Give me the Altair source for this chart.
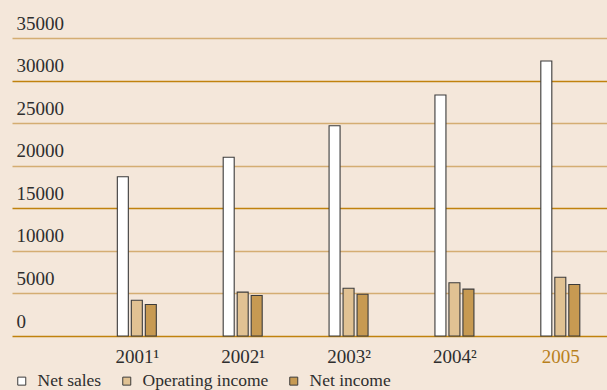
import altair as alt
import pandas as pd

# Values in EUR million, by fiscal year
years = [2001, 2002, 2003, 2004, 2005]
year_labels = ["2001¹", "2002¹", "2003²", "2004²", "2005"]
series = ["Net sales", "Operating income", "Net income"]
net_sales = [18700, 21000, 24700, 28300, 32300]
operating_income = [4200, 5150, 5600, 6250, 6900]
net_income = [3700, 4750, 4900, 5500, 6050]
series_colors = ["#ffffff", "#e1c293", "#c79a52"]
y_ticks = [0, 5000, 10000, 15000, 20000, 25000, 30000, 35000]

FONT = "Liberation Serif"
TEXT = "#2e2e2e"
GOLD = "#b8801c"

rows = []
for name, vals in zip(series, [net_sales, operating_income, net_income]):
    for yr, v in zip(years, vals):
        rows.append({"year": yr, "series": name, "value": v})
df = pd.DataFrame(rows)

series_list = "[" + ",".join(f"'{s}'" for s in series) + "]"
label_expr = "[" + ",".join(f"'{l}'" for l in year_labels) + f"][datum.value - {years[0]}]"

chart = (
    alt.Chart(df)
    .transform_calculate(
        pos=f"datum.year + (indexof({series_list}, datum.series) - 1) * 0.1322"
    )
    .mark_bar(size=11, stroke="#3b3b3b", strokeWidth=1.1)
    .encode(
        x=alt.X(
            "pos:Q",
            scale=alt.Scale(domain=[1999.821, 2005.441], nice=False, zero=False, padding=0),
            axis=alt.Axis(
                values=years,
                labelExpr=label_expr,
                title=None,
                grid=False,
                domain=False,
                ticks=False,
                tickSize=0,
                labelFont=FONT,
                labelFontSize=19,
                labelColor={"condition": {"test": "datum.value == 2005", "value": GOLD}, "value": TEXT},
                labelBaseline="alphabetic",
                labelPadding=26,
                labelFlush=False,
                labelOverlap=False,
            ),
        ),
        y=alt.Y(
            "value:Q",
            scale=alt.Scale(domain=[0, 35000], nice=False, padding=0),
            axis=alt.Axis(
                values=y_ticks,
                format="d",
                title=None,
                domain=False,
                ticks=False,
                tickSize=0,
                gridColor={"condition": {"test": "datum.value % 15000 === 0", "value": "#c0820e"}, "value": "#d4ad72"},
                gridWidth=1.5,
                labelFont=FONT,
                labelFontSize=19,
                labelColor=TEXT,
                labelAlign="left",
                labelBaseline="alphabetic",
                labelPadding=-4,
                labelOffset=-9,
                labelFlush=False,
                labelOverlap=False,
            ),
        ),
        color=alt.Color(
            "series:N",
            sort=series,
            scale=alt.Scale(domain=series, range=series_colors),
            legend=alt.Legend(
                orient="none",
                legendX=1,
                legendY=334,
                direction="horizontal",
                title=None,
            ),
        ),
    )
    .properties(
        width=595,
        height=298,
        background="#f4e7da",
        padding={"left": 12, "top": 38, "right": 0, "bottom": 54},
        autosize="none",
    )
    .configure_view(stroke=None)
    .configure_legend(
        symbolType="square",
        symbolSize=64,
        symbolStrokeColor="#3b3b3b",
        symbolStrokeWidth=1,
        labelFont=FONT,
        labelFontSize=17.5,
        labelColor=TEXT,
        labelOffset=7,
        columnPadding=16,
        padding=0,
    )
)

chart.save("out.html", embed_options={"renderer": "svg", "actions": False})
